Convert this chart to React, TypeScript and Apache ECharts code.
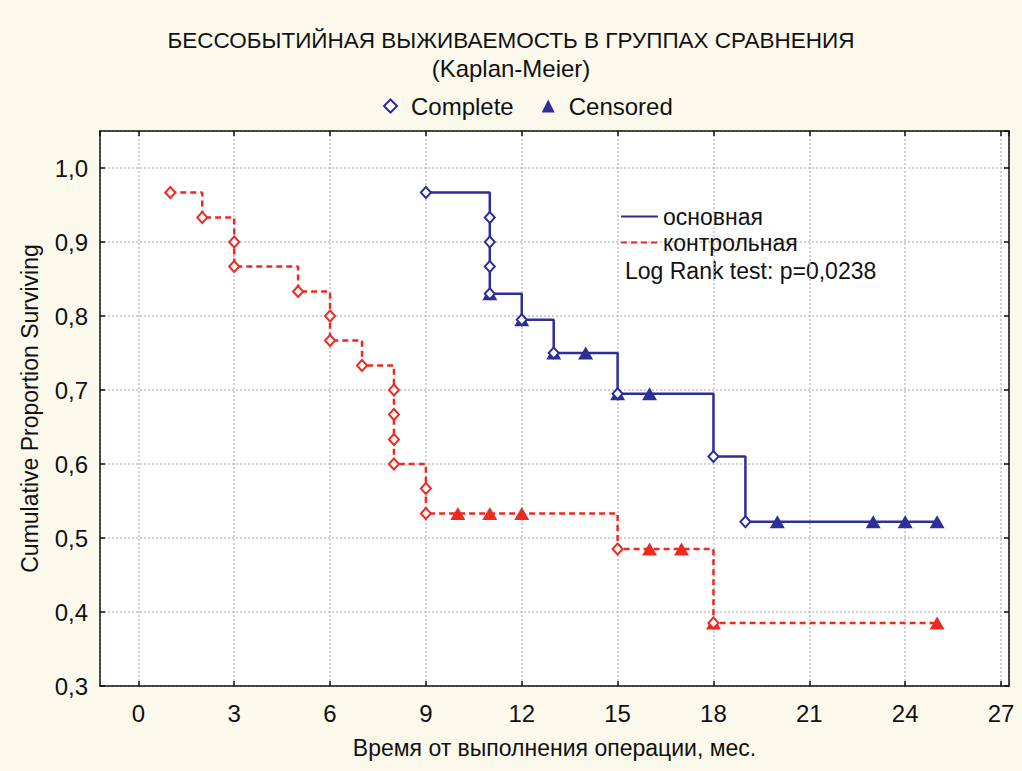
import React, { useEffect, useRef } from "react";
import * as echarts from "echarts";

// ---- data ----
// основная (main group)
const mainEventT = [9, 11, 11, 11, 11, 12, 13, 15, 18, 19];
const mainEventS = [0.967, 0.933, 0.9, 0.867, 0.83, 0.795, 0.75, 0.695, 0.61, 0.522];
const mainCensT = [11, 12, 13, 14, 15, 16, 20, 23, 24, 25];
const mainCensS = [0.83, 0.795, 0.75, 0.75, 0.695, 0.695, 0.522, 0.522, 0.522, 0.522];
// контрольная (control group)
const ctrlEventT = [1, 2, 3, 3, 5, 6, 6, 7, 8, 8, 8, 8, 9, 9, 15, 18];
const ctrlEventS = [0.967, 0.933, 0.9, 0.867, 0.833, 0.8, 0.767, 0.733, 0.7, 0.667, 0.633, 0.6, 0.567, 0.533, 0.485, 0.385];
const ctrlCensT = [10, 11, 12, 16, 17, 18, 25];
const ctrlCensS = [0.533, 0.533, 0.533, 0.485, 0.485, 0.385, 0.385];

const groupNames = ["основная", "контрольная"];
const markerNames = ["Complete", "Censored"];
const titleText = "БЕССОБЫТИЙНАЯ ВЫЖИВАЕМОСТЬ В ГРУППАХ СРАВНЕНИЯ";
const subtitleText = "(Kaplan-Meier)";
const logRankText = "Log Rank test: p=0,0238";
const xTitle = "Время от выполнения операции, мес.";
const yTitle = "Cumulative Proportion Surviving";

const X_MIN = -1.2;
const X_MAX = 27.25;
const Y_MIN = 0.3;
const Y_MAX = 1.05;

const BLUE = "#2e2e98";
const RED = "#ec2a22";
const FONT = "Liberation Sans, Arial, sans-serif";

const pairs = (t: number[], s: number[]) => t.map((v, i) => [v, s[i]]);

function stepLine(t: number[], s: number[], ct: number[], cs: number[]) {
  const pts = pairs(t, s);
  const lastT = ct[ct.length - 1];
  const lastS = cs[cs.length - 1];
  if (lastT > t[t.length - 1]) pts.push([lastT, lastS]);
  return pts;
}

export default function App() {
  const ref = useRef<HTMLDivElement>(null);

  useEffect(() => {
    const chart = echarts.init(ref.current!, null, { renderer: "svg" });

    const gridLine = { show: true, lineStyle: { color: "#c2c2c2", width: 1.5, type: [2, 2] as any } };
    const frameLine = { show: true, onZero: false, lineStyle: { color: "#111", width: 1.5 } };
    const tick = { show: true, inside: true, length: 5, lineStyle: { color: "#111", width: 1.5 } };

    const xLabelFmt = (v: number) =>
      Math.abs(v / 3 - Math.round(v / 3)) < 1e-6 ? String(Math.round(v)) : "";
    const yLabelFmt = (v: number) =>
      Math.abs(v * 10 - Math.round(v * 10)) < 1e-6 ? v.toFixed(1).replace(".", ",") : "";

    const option: any = {
      animation: false,
      backgroundColor: "#fbf9ec",
      textStyle: { fontFamily: FONT },
      grid: {
        left: 100,
        top: 131,
        width: 909,
        height: 555,
        show: true,
        backgroundColor: "#ffffff",
        borderWidth: 0,
      },
      legend: [
        {
          data: [
            { name: markerNames[0], icon: "diamond" },
            { name: markerNames[1], icon: "triangle" },
          ],
          left: 378,
          top: 89,
          itemWidth: 13,
          itemHeight: 13,
          itemGap: 28,
          textStyle: { fontSize: 24, color: "#111", fontFamily: FONT, padding: [0, 0, 0, 9] },
          selectedMode: false,
        },
        {
          data: groupNames,
          orient: "vertical",
          left: 615,
          top: 200,
          itemWidth: 37,
          itemHeight: 10,
          itemGap: 3,
          itemStyle: { color: "rgba(0,0,0,0)", borderWidth: 0, opacity: 0 },
          textStyle: { fontSize: 23, color: "#111", fontFamily: FONT },
          selectedMode: false,
        },
      ],
      xAxis: [
        {
          type: "value",
          min: X_MIN,
          max: X_MAX,
          splitNumber: 9,
          position: "bottom",
          name: xTitle,
          nameLocation: "middle",
          nameGap: 50,
          nameTextStyle: { fontSize: 23, color: "#111", fontFamily: FONT },
          axisLine: frameLine,
          axisTick: tick,
          axisLabel: { formatter: xLabelFmt, fontSize: 24, color: "#111", margin: 15, fontFamily: FONT, showMinLabel: false, showMaxLabel: false },
          splitLine: gridLine,
        },
        {
          type: "value",
          min: X_MIN,
          max: X_MAX,
          splitNumber: 9,
          position: "top",
          axisLine: frameLine,
          axisTick: tick,
          axisLabel: { show: false },
          splitLine: { show: false },
        },
      ],
      yAxis: [
        {
          type: "value",
          min: Y_MIN,
          max: Y_MAX,
          interval: 0.1,
          position: "left",
          name: yTitle,
          nameLocation: "middle",
          nameRotate: 90,
          nameGap: 59,
          nameTextStyle: { fontSize: 23, color: "#111", fontFamily: FONT },
          axisLine: frameLine,
          axisTick: tick,
          axisLabel: { formatter: yLabelFmt, fontSize: 24, color: "#111", margin: 12, fontFamily: FONT, showMaxLabel: false },
          splitLine: gridLine,
        },
        {
          type: "value",
          min: Y_MIN,
          max: Y_MAX,
          interval: 0.1,
          position: "right",
          axisLine: frameLine,
          axisTick: tick,
          axisLabel: { show: false },
          splitLine: { show: false },
        },
      ],
      graphic: [
        {
          type: "text",
          left: "center",
          top: 28.5,
          style: { text: titleText, fontSize: 22.5, fontFamily: FONT, fill: "#111" },
        },
        {
          type: "text",
          left: "center",
          top: 56,
          style: { text: subtitleText, fontSize: 24, fontFamily: FONT, fill: "#111" },
        },
        {
          type: "text",
          left: 625,
          top: 259,
          style: { text: logRankText, fontSize: 23, fontFamily: FONT, fill: "#111" },
        },
      ],
      series: [
        {
          name: groupNames[0],
          type: "line",
          step: "end",
          data: stepLine(mainEventT, mainEventS, mainCensT, mainCensS),
          symbol: "none",
          lineStyle: { color: BLUE, width: 2.5 },
          itemStyle: { color: BLUE },
          z: 2,
        },
        {
          name: groupNames[1],
          type: "line",
          step: "end",
          data: stepLine(ctrlEventT, ctrlEventS, ctrlCensT, ctrlCensS),
          symbol: "none",
          lineStyle: { color: RED, width: 2.5, type: [6, 4] },
          itemStyle: { color: RED },
          z: 2,
        },
        {
          name: markerNames[1],
          type: "scatter",
          data: pairs(mainCensT, mainCensS),
          symbol: "triangle",
          symbolSize: [15, 13],
          itemStyle: { color: BLUE, opacity: 1 },
          z: 3,
        },
        {
          name: markerNames[1],
          type: "scatter",
          data: pairs(ctrlCensT, ctrlCensS),
          symbol: "triangle",
          symbolSize: [15, 13],
          itemStyle: { color: RED, opacity: 1 },
          z: 3,
        },
        {
          name: markerNames[0],
          type: "scatter",
          data: pairs(mainEventT, mainEventS),
          symbol: "diamond",
          symbolSize: [10, 11],
          itemStyle: { color: "#ffffff", borderColor: BLUE, borderWidth: 2, opacity: 1 },
          z: 4,
        },
        {
          name: markerNames[0],
          type: "scatter",
          data: pairs(ctrlEventT, ctrlEventS),
          symbol: "diamond",
          symbolSize: [10, 11],
          itemStyle: { color: "#ffffff", borderColor: RED, borderWidth: 2, opacity: 1 },
          z: 4,
        },
      ],
    };

    chart.setOption(option);
    return () => chart.dispose();
  }, []);

  return (
    <div
      ref={ref}
      style={{ position: "fixed", left: 0, top: 0, width: 1022, height: 771, background: "#fbf9ec" }}
    />
  );
}
